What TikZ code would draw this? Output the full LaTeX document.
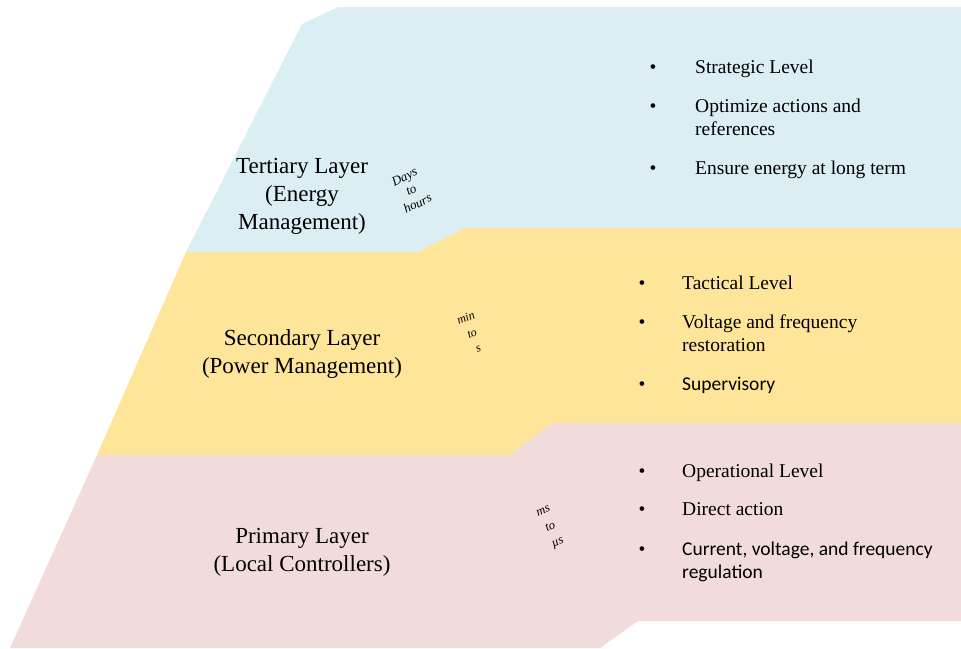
\documentclass[tikz,border=0pt]{standalone}
\usepackage{fontspec}
\setmainfont{Liberation Serif}
\newfontfamily\calibri{Carlito}

\definecolor{tertblue}{HTML}{DAEEF3}
\definecolor{secyellow}{HTML}{FFE599}
\definecolor{primpink}{HTML}{F2DCDB}

\tikzset{
  layerlabel/.style={align=center, inner sep=0pt, font=\fontsize{23}{28}\selectfont},
  timescale/.style={align=center, inner sep=0pt, rotate=24, font=\itshape\fontsize{13}{15}\selectfont},
  bulletdot/.style={anchor=base, inner sep=0pt, font=\fontsize{19.5}{23}\selectfont},
  bullettext/.style={anchor=base west, inner sep=0pt, font=\fontsize{19.5}{23}\selectfont}
}

\begin{document}
\begin{tikzpicture}[x=1pt,y=-1pt]
  \useasboundingbox (0,0) rectangle (961,648);

  % Layers
  \fill[tertblue] (186,252) -- (302,24) -- (338,7) -- (961,7) -- (961,228) -- (465,228) -- (418,252) -- cycle;
  \fill[secyellow] (97,455) -- (186,252) -- (418,252) -- (465,228) -- (961,228) -- (961,423) -- (552,423) -- (510,455) -- cycle;
  \fill[primpink] (10,648) -- (97,455) -- (510,455) -- (552,423) -- (961,423) -- (961,621) -- (638,621) -- (600,648) -- cycle;

  % Layer names
  \node[layerlabel] (tertiary) at (302,196) {Tertiary Layer\\(Energy\\Management)};
  \node[layerlabel] (secondary) at (302,354) {Secondary Layer\\(Power Management)};
  \node[layerlabel] (primary) at (302,552) {Primary Layer\\(Local Controllers)};

  % Time scales
  \node[timescale, rotate=2] (days) at (411,190) {Days\\to\\hours};
  \node[timescale, rotate=-2, font=\itshape\fontsize{12}{16.5}\selectfont] (mins) at (472,333) {min\\to\\s};
  \node[timescale, font=\itshape\fontsize{12.5}{17.5}\selectfont] (micro) at (551,528) {ms\\to\\µs};

  % Tertiary items
  \node[bulletdot] (t1) at (653,73) {•};
  \node[bullettext] (strategic) at (695,73) {Strategic Level};
  \node[bulletdot] (t2) at (653,112) {•};
  \node[bullettext] (optimize) at (695,112) {Optimize actions and};
  \node[bullettext] (references) at (695,135) {references};
  \node[bulletdot] (t3) at (653,174) {•};
  \node[bullettext] (ensure) at (695,174) {Ensure energy at long term};

  % Secondary items
  \node[bulletdot] (s1) at (642,289) {•};
  \node[bullettext] (tactical) at (682,289) {Tactical Level};
  \node[bulletdot] (s2) at (642,328) {•};
  \node[bullettext] (voltage) at (682,328) {Voltage and frequency};
  \node[bullettext] (restoration) at (682,351) {restoration};
  \node[bulletdot] (s3) at (642,390) {•};
  \node[bullettext, font=\calibri\fontsize{19.5}{23}\selectfont] (supervisory) at (682,390) {Supervisory};

  % Primary items
  \node[bulletdot] (p1) at (642,477) {•};
  \node[bullettext] (operational) at (682,477) {Operational Level};
  \node[bulletdot] (p2) at (642,515) {•};
  \node[bullettext] (direct) at (682,515) {Direct action};
  \node[bulletdot] (p3) at (642,555) {•};
  \node[bullettext, font=\calibri\fontsize{19.5}{23}\selectfont] (current) at (682,555) {Current, voltage, and frequency};
  \node[bullettext, font=\calibri\fontsize{19.5}{23}\selectfont] (regulation) at (682,578) {regulation};
\end{tikzpicture}
\end{document}
